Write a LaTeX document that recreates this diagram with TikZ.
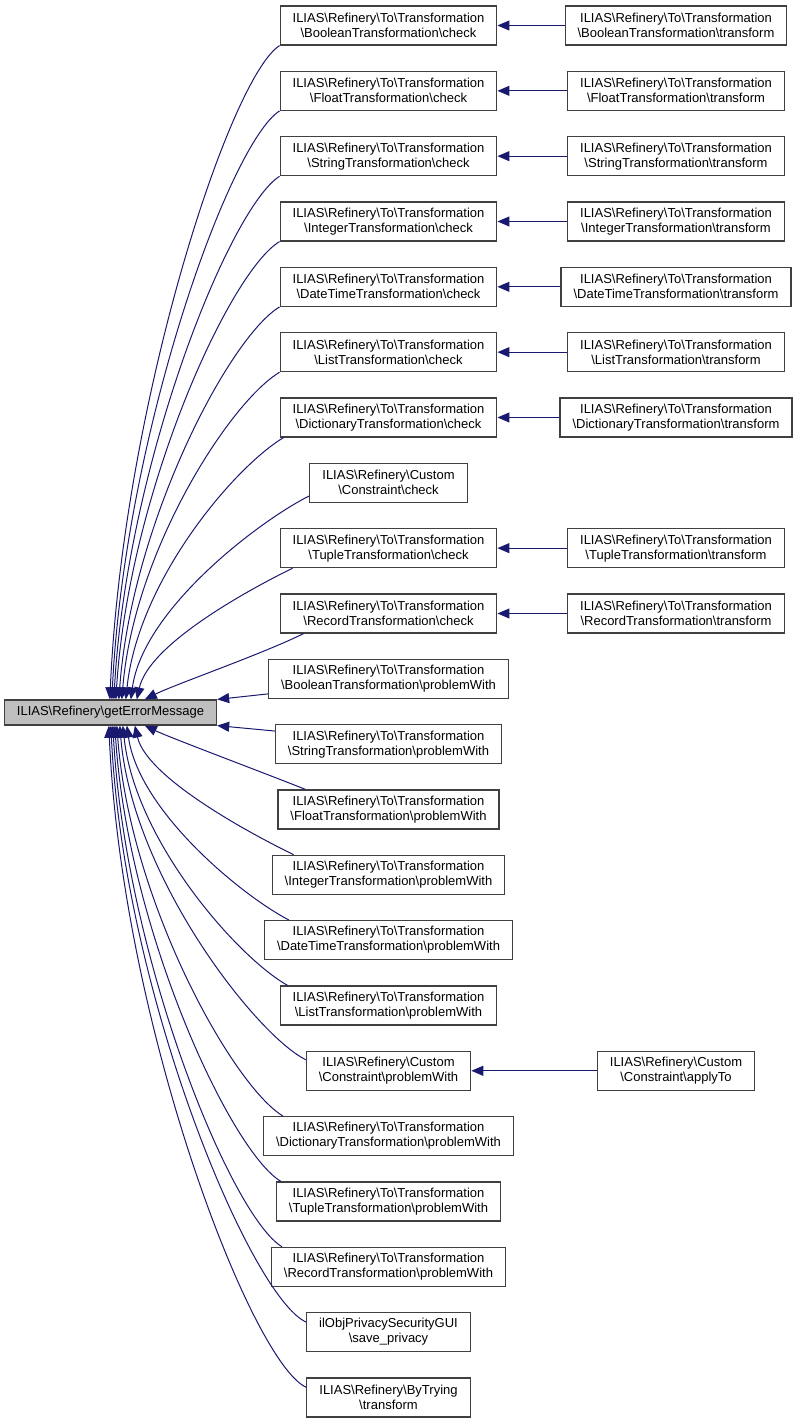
\documentclass[tikz,border=0pt]{standalone}
\usepackage{fontspec}
\setmainfont{Liberation Sans}
\usepackage{xcolor}
\usepackage{tikz}
\usetikzlibrary{arrows.meta}

\definecolor{callblue}{RGB}{25,25,112}
\definecolor{boxline}{RGB}{64,64,64}
\definecolor{rootfill}{RGB}{191,191,191}

\newcommand{\bs}{\textbackslash}
\newcommand{\rto}{ILIAS\bs Refinery\bs To\bs Transformation}

\begin{document}
\begin{tikzpicture}[x=1pt, y=-1pt,
  fnbox/.style={draw=boxline, line width=1.2pt, fill=white, align=center,
    font=\fontsize{13}{15}\selectfont, inner xsep=12.5pt, inner ysep=2pt,
    minimum height=39pt},
  rootbox/.style={fnbox, fill=rootfill, minimum height=25pt},
  callarrow/.style={draw=callblue, line width=1pt,
    -{Triangle[length=12pt,width=10pt]}}]
  \useasboundingbox (0,0) rectangle (797,1424);

  % called function
  \node[rootbox] (root) at (110.5,712.5) {ILIAS\bs Refinery\bs getErrorMessage};

  % direct callers
  \foreach \i/\t in {
    1/{\rto\\\bs BooleanTransformation\bs check},
    2/{\rto\\\bs FloatTransformation\bs check},
    3/{\rto\\\bs StringTransformation\bs check},
    4/{\rto\\\bs IntegerTransformation\bs check},
    5/{\rto\\\bs DateTimeTransformation\bs check},
    6/{\rto\\\bs ListTransformation\bs check},
    7/{\rto\\\bs DictionaryTransformation\bs check},
    8/{ILIAS\bs Refinery\bs Custom\\\bs Constraint\bs check},
    9/{\rto\\\bs TupleTransformation\bs check},
    10/{\rto\\\bs RecordTransformation\bs check},
    11/{\rto\\\bs BooleanTransformation\bs problemWith},
    12/{\rto\\\bs StringTransformation\bs problemWith},
    13/{\rto\\\bs FloatTransformation\bs problemWith},
    14/{\rto\\\bs IntegerTransformation\bs problemWith},
    15/{\rto\\\bs DateTimeTransformation\bs problemWith},
    16/{\rto\\\bs ListTransformation\bs problemWith},
    17/{ILIAS\bs Refinery\bs Custom\\\bs Constraint\bs problemWith},
    18/{\rto\\\bs DictionaryTransformation\bs problemWith},
    19/{\rto\\\bs TupleTransformation\bs problemWith},
    20/{\rto\\\bs RecordTransformation\bs problemWith},
    21/{ilObjPrivacySecurityGUI\\\bs save\_privacy},
    22/{ILIAS\bs Refinery\bs ByTrying\\\bs transform}} {
    \node[fnbox] (c\i) at (388.5, {25.5+(\i-1)*65.33}) {\t};
  }

  % second level callers
  \foreach \i/\t in {
    1/{\rto\\\bs BooleanTransformation\bs transform},
    2/{\rto\\\bs FloatTransformation\bs transform},
    3/{\rto\\\bs StringTransformation\bs transform},
    4/{\rto\\\bs IntegerTransformation\bs transform},
    5/{\rto\\\bs DateTimeTransformation\bs transform},
    6/{\rto\\\bs ListTransformation\bs transform},
    7/{\rto\\\bs DictionaryTransformation\bs transform},
    9/{\rto\\\bs TupleTransformation\bs transform},
    10/{\rto\\\bs RecordTransformation\bs transform},
    17/{ILIAS\bs Refinery\bs Custom\\\bs Constraint\bs applyTo}} {
    \node[fnbox] (t\i) at (676, {25.5+(\i-1)*65.33}) {\t};
    \draw[callarrow] (t\i) -- (c\i);
  }

  % calls from above the root
  \foreach \i/\sx/\sy/\ex/\ax/\ay/\bx/\by in {
    1/0/0/106/-50/32/13/-295, 2/0/0/108/-50/32/13/-266,
    3/0/0/110/-50/32/13/-236, 4/0/0/112/-50/30/13/-207,
    5/0/0/115/-50/30/13/-177, 6/0/0/118/-50/30/12/-148,
    7/4/0/122/-50/30/12/-118, 8/0/7/127/-50/25/12/-90,
    9/13/0/133/-45/22/12/-55, 10/24/0/141/-40/20/30/-15} {
    \draw[callarrow] ([xshift=\sx pt,yshift=\sy pt]c\i.south west)
      .. controls +(\ax,\ay) and +(\bx,\by) .. ([xshift=\ex pt]root.north west);
  }
  \draw[callarrow] ([yshift=5pt]c11.south west) -- (root.north east);
  \draw[callarrow] ([yshift=-7pt]c12.north west) -- (root.south east);

  % calls from below the root
  \foreach \i/\sx/\sy/\ex/\ax/\ay/\bx/\by in {
    13/28/0/141/-40/-16/25/12, 14/22/0/131/-45/-22/12/52,
    15/25/0/123/-48/-25/12/85, 16/8/0/119/-50/-28/12/115,
    17/0/-9/116/-50/-25/12/150, 18/20/0/113/-50/-30/13/176,
    19/5/0/111/-50/-30/13/205, 20/11/0/109/-50/-30/13/235,
    21/0/-10/107/-55/-25/13/270, 22/0/-10/105/-55/-25/13/300} {
    \draw[callarrow] ([xshift=\sx pt,yshift=\sy pt]c\i.north west)
      .. controls +(\ax,\ay) and +(\bx,\by) .. ([xshift=\ex pt]root.south west);
  }
\end{tikzpicture}
\end{document}
